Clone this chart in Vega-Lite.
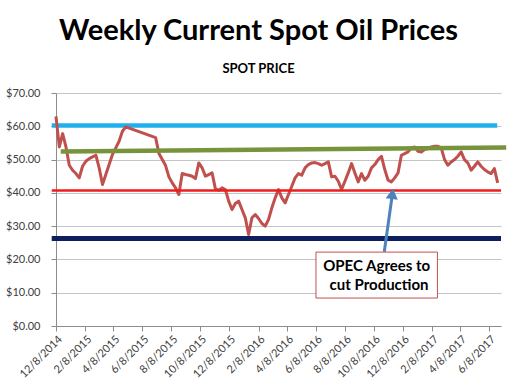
{
  "$schema": "https://vega.github.io/schema/vega-lite/v6.json",
  "width": 445,
  "height": 233,
  "autosize": "none",
  "padding": {"left": 56, "top": 93, "right": 19, "bottom": 64},
  "background": "white",
  "config": {
    "font": "Lato",
    "view": {"stroke": null},
    "axis": {"labelFont": "Lato", "labelColor": "#404040", "labelFontSize": 11, "domainColor": "#8c8c8c", "tickColor": "#8c8c8c", "gridColor": "#c4c4c4", "title": null}
  },
  "title": {
    "text": "Weekly Current Spot Oil Prices",
    "subtitle": "SPOT PRICE",
    "font": "Lato",
    "fontSize": 29,
    "fontWeight": "bold",
    "color": "#000000",
    "subtitleFont": "Lato",
    "subtitleFontSize": 13,
    "subtitleFontWeight": "bold",
    "subtitleColor": "#000000",
    "subtitlePadding": 17,
    "anchor": "middle",
    "dx": -20,
    "offset": 11
  },
  "datasets": {
    "prices": [
      {"date": "2014-12-08", "price": 63.0},
      {"date": "2014-12-15", "price": 53.8},
      {"date": "2014-12-22", "price": 57.8},
      {"date": "2014-12-29", "price": 53.8},
      {"date": "2015-01-05", "price": 48.3},
      {"date": "2015-01-12", "price": 46.8},
      {"date": "2015-01-19", "price": 45.8},
      {"date": "2015-01-26", "price": 44.5},
      {"date": "2015-02-02", "price": 48.0},
      {"date": "2015-02-09", "price": 49.5},
      {"date": "2015-02-16", "price": 50.3},
      {"date": "2015-02-23", "price": 50.8},
      {"date": "2015-03-02", "price": 51.3},
      {"date": "2015-03-09", "price": 47.5},
      {"date": "2015-03-16", "price": 42.5},
      {"date": "2015-03-23", "price": 45.5},
      {"date": "2015-03-30", "price": 48.5},
      {"date": "2015-04-06", "price": 51.5},
      {"date": "2015-04-13", "price": 53.5},
      {"date": "2015-04-20", "price": 55.5},
      {"date": "2015-04-27", "price": 58.5},
      {"date": "2015-05-04", "price": 59.8},
      {"date": "2015-07-06", "price": 56.6},
      {"date": "2015-07-13", "price": 51.8},
      {"date": "2015-07-20", "price": 50.0},
      {"date": "2015-07-27", "price": 48.2},
      {"date": "2015-08-03", "price": 44.8},
      {"date": "2015-08-10", "price": 43.0},
      {"date": "2015-08-17", "price": 41.5},
      {"date": "2015-08-24", "price": 39.5},
      {"date": "2015-08-31", "price": 45.8},
      {"date": "2015-09-07", "price": 45.5},
      {"date": "2015-09-14", "price": 45.3},
      {"date": "2015-09-21", "price": 45.0},
      {"date": "2015-09-28", "price": 44.3},
      {"date": "2015-10-05", "price": 49.0},
      {"date": "2015-10-12", "price": 47.5},
      {"date": "2015-10-19", "price": 45.0},
      {"date": "2015-10-26", "price": 45.5},
      {"date": "2015-11-02", "price": 46.0},
      {"date": "2015-11-09", "price": 41.2},
      {"date": "2015-11-16", "price": 40.8},
      {"date": "2015-11-23", "price": 41.5},
      {"date": "2015-11-30", "price": 41.0},
      {"date": "2015-12-07", "price": 37.5},
      {"date": "2015-12-14", "price": 35.0},
      {"date": "2015-12-21", "price": 36.8},
      {"date": "2015-12-28", "price": 37.5},
      {"date": "2016-01-04", "price": 35.0},
      {"date": "2016-01-11", "price": 32.5},
      {"date": "2016-01-18", "price": 27.5},
      {"date": "2016-01-25", "price": 32.5},
      {"date": "2016-02-01", "price": 33.5},
      {"date": "2016-02-08", "price": 32.3},
      {"date": "2016-02-15", "price": 30.8},
      {"date": "2016-02-22", "price": 30.0},
      {"date": "2016-02-29", "price": 32.0},
      {"date": "2016-03-07", "price": 35.5},
      {"date": "2016-03-14", "price": 38.5},
      {"date": "2016-03-21", "price": 41.0},
      {"date": "2016-03-28", "price": 38.5},
      {"date": "2016-04-04", "price": 37.0},
      {"date": "2016-04-11", "price": 39.5},
      {"date": "2016-04-18", "price": 42.0},
      {"date": "2016-04-25", "price": 44.5},
      {"date": "2016-05-02", "price": 45.8},
      {"date": "2016-05-09", "price": 45.3},
      {"date": "2016-05-16", "price": 47.5},
      {"date": "2016-05-23", "price": 48.5},
      {"date": "2016-05-30", "price": 49.0},
      {"date": "2016-06-06", "price": 49.1},
      {"date": "2016-06-13", "price": 48.8},
      {"date": "2016-06-20", "price": 48.3},
      {"date": "2016-06-27", "price": 48.8},
      {"date": "2016-07-04", "price": 49.3},
      {"date": "2016-07-11", "price": 44.8},
      {"date": "2016-07-18", "price": 45.0},
      {"date": "2016-07-25", "price": 43.5},
      {"date": "2016-08-01", "price": 41.0},
      {"date": "2016-08-08", "price": 43.5},
      {"date": "2016-08-15", "price": 46.0},
      {"date": "2016-08-22", "price": 48.8},
      {"date": "2016-08-29", "price": 46.0},
      {"date": "2016-09-05", "price": 43.3},
      {"date": "2016-09-12", "price": 45.8},
      {"date": "2016-09-19", "price": 43.8},
      {"date": "2016-09-26", "price": 45.0},
      {"date": "2016-10-03", "price": 47.5},
      {"date": "2016-10-10", "price": 48.5},
      {"date": "2016-10-17", "price": 50.0},
      {"date": "2016-10-24", "price": 51.0},
      {"date": "2016-10-31", "price": 47.0},
      {"date": "2016-11-07", "price": 43.8},
      {"date": "2016-11-14", "price": 43.3},
      {"date": "2016-11-21", "price": 44.5},
      {"date": "2016-11-28", "price": 46.0},
      {"date": "2016-12-05", "price": 51.3},
      {"date": "2016-12-12", "price": 51.8},
      {"date": "2016-12-19", "price": 52.3},
      {"date": "2016-12-26", "price": 53.5},
      {"date": "2017-01-02", "price": 53.8},
      {"date": "2017-01-09", "price": 52.5},
      {"date": "2017-01-16", "price": 52.3},
      {"date": "2017-01-23", "price": 53.0},
      {"date": "2017-01-30", "price": 53.3},
      {"date": "2017-02-06", "price": 53.8},
      {"date": "2017-02-13", "price": 54.0},
      {"date": "2017-02-20", "price": 54.0},
      {"date": "2017-02-27", "price": 53.5},
      {"date": "2017-03-06", "price": 50.0},
      {"date": "2017-03-13", "price": 48.3},
      {"date": "2017-03-20", "price": 49.3},
      {"date": "2017-03-27", "price": 50.0},
      {"date": "2017-04-03", "price": 51.0},
      {"date": "2017-04-10", "price": 52.3},
      {"date": "2017-04-17", "price": 50.0},
      {"date": "2017-04-24", "price": 49.0},
      {"date": "2017-05-01", "price": 46.8},
      {"date": "2017-05-08", "price": 48.0},
      {"date": "2017-05-15", "price": 49.3},
      {"date": "2017-05-22", "price": 48.0},
      {"date": "2017-05-29", "price": 47.0},
      {"date": "2017-06-05", "price": 46.3},
      {"date": "2017-06-12", "price": 45.8},
      {"date": "2017-06-19", "price": 47.3},
      {"date": "2017-06-26", "price": 43.0}
    ]
  },
  "encoding": {
    "x": {
      "field": "date",
      "type": "temporal",
      "scale": {"type": "utc", "domain": [{"year": 2014, "month": 12, "date": 8, "utc": true}, {"year": 2017, "month": 7, "date": 3, "utc": true}]},
      "axis": {
        "format": "%-m/%-d/%Y",
        "labelAngle": -45,
        "labelOverlap": false,
        "grid": false,
        "tickSize": 5,
        "labelPadding": 2,
        "values": [
          {"year": 2014, "month": 12, "date": 8, "utc": true},
          {"year": 2015, "month": 2, "date": 8, "utc": true},
          {"year": 2015, "month": 4, "date": 8, "utc": true},
          {"year": 2015, "month": 6, "date": 8, "utc": true},
          {"year": 2015, "month": 8, "date": 8, "utc": true},
          {"year": 2015, "month": 10, "date": 8, "utc": true},
          {"year": 2015, "month": 12, "date": 8, "utc": true},
          {"year": 2016, "month": 2, "date": 8, "utc": true},
          {"year": 2016, "month": 4, "date": 8, "utc": true},
          {"year": 2016, "month": 6, "date": 8, "utc": true},
          {"year": 2016, "month": 8, "date": 8, "utc": true},
          {"year": 2016, "month": 10, "date": 8, "utc": true},
          {"year": 2016, "month": 12, "date": 8, "utc": true},
          {"year": 2017, "month": 2, "date": 8, "utc": true},
          {"year": 2017, "month": 4, "date": 8, "utc": true},
          {"year": 2017, "month": 6, "date": 8, "utc": true}
        ]
      }
    },
    "y": {
      "field": "price",
      "type": "quantitative",
      "scale": {"domain": [0, 70], "nice": false},
      "axis": {"values": [0, 10, 20, 30, 40, 50, 60, 70], "format": "$.2f", "tickSize": 5, "labelPadding": 11, "grid": true}
    }
  },
  "layer": [
    {
      "data": {"values": [{"date": "2014-11-29", "price": 60.2}, {"date": "2017-06-25", "price": 60.2}]},
      "mark": {"type": "line", "color": "#1FB0EC", "strokeWidth": 4.5}
    },
    {
      "data": {"values": [{"date": "2014-11-29", "price": 26.3}, {"date": "2017-07-03", "price": 26.3}]},
      "mark": {"type": "line", "color": "#0D1F5C", "strokeWidth": 5}
    },
    {
      "data": {"name": "prices"},
      "mark": {"type": "line", "color": "#C0504D", "strokeWidth": 3, "strokeJoin": "round"}
    },
    {
      "data": {"values": [{"date": "2014-11-29", "price": 40.7}, {"date": "2017-07-03", "price": 40.7}]},
      "mark": {"type": "line", "color": "#F01C1C", "strokeWidth": 2.5}
    },
    {
      "data": {"values": [{"date": "2014-12-18", "price": 52.4}, {"date": "2017-07-14", "price": 53.6}]},
      "mark": {"type": "line", "color": "#77933C", "strokeWidth": 4.5}
    },
    {
      "data": {"values": [{"date": "2016-10-30", "price": 22.3}, {"date": "2016-11-16", "price": 39.6}]},
      "mark": {"type": "line", "color": "#4F81BD", "strokeWidth": 3}
    },
    {
      "data": {"values": [{"date": "2016-11-16", "price": 39.7}]},
      "mark": {"type": "point", "shape": "triangle-up", "filled": true, "opacity": 1, "color": "#4F81BD", "size": 150, "angle": 7}
    },
    {
      "data": {"values": [{"date": "2016-06-08", "end": "2017-02-19", "price": 8.4, "high": 22.2}]},
      "mark": {"type": "rect", "fill": "white", "stroke": "#C0504D", "strokeWidth": 1},
      "encoding": {
        "x2": {"field": "end"},
        "y2": {"field": "high"}
      }
    },
    {
      "data": {"values": [{"date": "2016-10-14", "price": 18.0, "label": "OPEC Agrees to"}, {"date": "2016-10-19", "price": 12.3, "label": "cut Production"}]},
      "mark": {"type": "text", "font": "Lato", "fontSize": 15, "fontWeight": "bold", "color": "#000000", "align": "center", "baseline": "middle"},
      "encoding": {"text": {"field": "label"}}
    }
  ]
}
